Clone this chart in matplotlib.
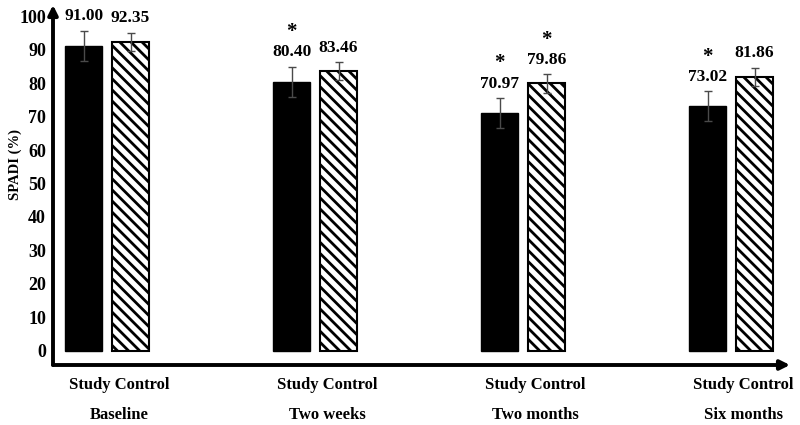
import matplotlib
matplotlib.use("Agg")
import matplotlib.pyplot as plt
import numpy as np

plt.rcParams['font.family'] = ['Liberation Serif', 'DejaVu Serif']
plt.rcParams['font.weight'] = 'bold'
plt.rcParams['hatch.linewidth'] = 2.0

groups = ["Baseline", "Two weeks", "Two months", "Six months"]
study = [91.00, 80.40, 70.97, 73.02]
control = [92.35, 83.46, 79.86, 81.86]
study_err = [4.5, 4.5, 4.5, 4.5]
control_err = [2.7, 2.7, 2.7, 2.7]
study_star = [False, True, True, True]
control_star = [False, False, True, False]
yticks = list(range(0, 101, 10))
ylabel = "SPADI (%)"

W, H = 800, 425
fig = plt.figure(figsize=(W / 100, H / 100), dpi=100)
ax_l, ax_r, ax_b, ax_t = 53, 790, 365, 5
ax = fig.add_axes([ax_l / W, (H - ax_b) / H, (ax_r - ax_l) / W, (ax_b - ax_t) / H])

x = np.arange(len(groups))
off = 0.113
bw = 0.178
ax.bar(x - off, study, bw, color='black', edgecolor='black', linewidth=1)
ax.bar(x + off, control, bw, color='white', edgecolor='black', linewidth=1.5, hatch='\\\\\\')
ax.errorbar(x - off, study, yerr=study_err, fmt='none', ecolor='#4a4a4a', elinewidth=1, capsize=3, capthick=1)
ax.errorbar(x + off, control, yerr=control_err, fmt='none', ecolor='#4a4a4a', elinewidth=1, capsize=3, capthick=1)

for xi, v, e, s in zip(x - off, study, study_err, study_star):
    ax.text(xi, v + e + 2.0, f"{v:.2f}", ha='center', va='bottom', fontsize=12.5, fontweight='bold')
    if s:
        ax.text(xi, v + e + 7.4, "*", ha='center', va='bottom', fontsize=15, fontweight='bold')
for xi, v, e, s in zip(x + off, control, control_err, control_star):
    ax.text(xi, v + e + 2.0, f"{v:.2f}", ha='center', va='bottom', fontsize=12.5, fontweight='bold')
    if s:
        ax.text(xi, v + e + 7.4, "*", ha='center', va='bottom', fontsize=15, fontweight='bold')

ax.set_xlim(-0.26, 3.283)
ax.set_ylim(-4.2, 103.3)
ax.set_yticks(yticks)
ax.set_yticklabels([str(t) for t in yticks], fontsize=13, fontweight='bold')
ax.tick_params(axis='y', length=0, pad=5)
ax.set_xticks([])
for sp in ax.spines.values():
    sp.set_visible(False)

ap = dict(arrowstyle='-|>', lw=2.8, color='black', mutation_scale=14, shrinkA=0, shrinkB=0)
ax.annotate('', xy=(0, 1), xytext=(0, 0), xycoords='axes fraction', textcoords='axes fraction', arrowprops=ap)
ax.annotate('', xy=(1, 0), xytext=(0, 0), xycoords='axes fraction', textcoords='axes fraction', arrowprops=ap)

trans = ax.get_xaxis_transform()
for xi, g in zip(x, groups):
    ax.text(xi + 0.06, -0.055, "Study Control", transform=trans, ha='center', va='center', fontsize=12, fontweight='bold')
    ax.text(xi + 0.06, -0.138, g, transform=trans, ha='center', va='center', fontsize=12, fontweight='bold')

fig.text(15 / W, (H - 165) / H, ylabel, rotation=90, ha='center', va='center', fontsize=10.5, fontweight='bold')

fig.savefig("out.png", dpi=100)
